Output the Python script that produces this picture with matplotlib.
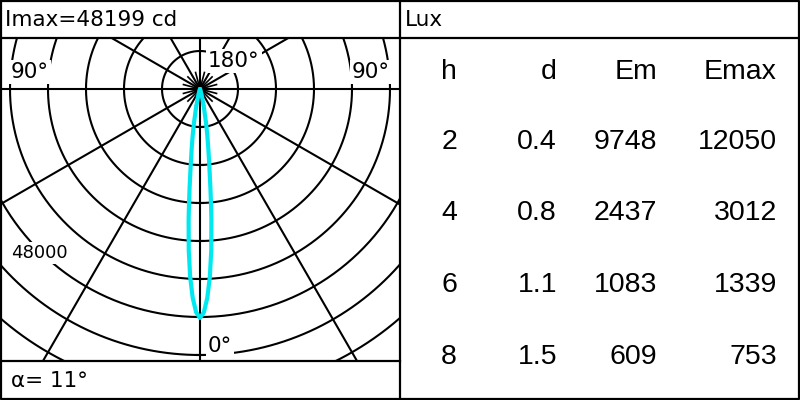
import numpy as np
import matplotlib.pyplot as plt

plt.rcParams['font.family'] = ['DejaVu Sans']

# luminous intensity curve (cd)
angles = [0, 1, 2, 3, 4, 5, 5.5, 6, 7, 8, 9, 10, 12, 15, 20, 30, 45, 60, 90]
intensity = [48199, 47000, 44000, 39600, 34000, 27500, 24100, 21000, 16000,
             12500, 9800, 7500, 4000, 1500, 400, 100, 30, 10, 0]
imax = 48199
ring_step = 8000
beam_angle = 11

# illuminance table
h = ['2', '4', '6', '8']
d = ['0.4', '0.8', '1.1', '1.5']
em = ['9748', '2437', '1083', '609']
emax = ['12050', '3012', '1339', '753']

W, H = 800, 400
fig = plt.figure(figsize=(8, 4), dpi=100)

# frame lines in figure pixel coords
frame = fig.add_axes([0, 0, 1, 1])
frame.set_xlim(0, W)
frame.set_ylim(H, 0)
frame.axis('off')
lw = 1.6
frame.plot([1, W - 1, W - 1, 1, 1], [1, 1, H - 1, H - 1, 1], color='black', lw=lw)
frame.plot([0, W], [38, 38], color='black', lw=lw)
frame.plot([400, 400], [0, H], color='black', lw=lw)
frame.plot([0, 400], [361, 361], color='black', lw=lw)

fs = 15.5
frame.text(5, 20, f'Imax={imax} cd', fontsize=fs, va='center', ha='left')
frame.text(405, 20, 'Lux', fontsize=fs, va='center', ha='left')
frame.text(11, 381, f'α= {beam_angle}°', fontsize=fs, va='center', ha='left')

# table
cols_x = [457, 557, 657, 777]
head_y = 72
rows_y = [142, 213, 285, 357]
tfont = dict(fontsize=20.5, family='Liberation Sans', ha='right', va='center')
for x, lab in zip(cols_x, ['h', 'd', 'Em', 'Emax']):
    frame.text(x, head_y, lab, **tfont)
for col, x in zip([h, d, em, emax], cols_x):
    for val, y in zip(col, rows_y):
        frame.text(x, y, val, **tfont)

# polar diagram panel: pixels 0..400 x 38..361, centre at (200, 89)
px = ring_step / 38.0
cx, cy = 200, 89
left, right, top, bottom = 1, 399.5, 38.5, 360.5
ax = fig.add_axes([left / W, 1 - bottom / H, (right - left) / W, (bottom - top) / H])
ax.set_xlim((left - cx) * px, (right - cx) * px)
ax.set_ylim(-(bottom - cy) * px, (cy - top) * px)
ax.axis('off')

t = np.linspace(0, 2 * np.pi, 720)
for k in range(1, 12):
    r = k * ring_step
    ax.plot(r * np.cos(t), r * np.sin(t), color='black', lw=1.5, zorder=1)

big = 20 * ring_step
for a in [0, 30, 60, 90, 120, 150]:
    ar = np.radians(a)
    ax.plot([-big * np.cos(ar), big * np.cos(ar)], [-big * np.sin(ar), big * np.sin(ar)],
            color='black', lw=1.5, zorder=1)
for a in range(15, 360, 30):
    ar = np.radians(a)
    ax.plot([0, 0.45 * ring_step * np.cos(ar)], [0, 0.45 * ring_step * np.sin(ar)],
            color='black', lw=1.2, zorder=1)

# ticks on the vertical axis at each ring
for k in range(1, 12):
    ax.plot([-0.07 * ring_step, 0.07 * ring_step], [-k * ring_step, -k * ring_step],
            color='black', lw=1.5, zorder=1)

th = np.radians(np.array(angles))
I = np.array(intensity)
th_full = np.concatenate([-th[::-1], th[1:]])
I_full = np.concatenate([I[::-1], I[1:]])
ax.plot(I_full * np.sin(th_full), -I_full * np.cos(th_full), color='#00e8f0',
        lw=3, zorder=3, solid_capstyle='round')

box = dict(facecolor='white', edgecolor='none', pad=1.5)
lfs = 15.5
ax.text(-189 * px, 17 * px, '90°', fontsize=lfs, ha='left', va='center', bbox=box, zorder=4)
ax.text(190 * px, 17 * px, '90°', fontsize=lfs, ha='right', va='center', bbox=box, zorder=4)
ax.text(8 * px, 28 * px, '180°', fontsize=lfs, ha='left', va='center', bbox=box, zorder=4)
ax.text(8 * px, -257 * px, '0°', fontsize=lfs, ha='left', va='center', bbox=box, zorder=4)
ax.text(-189 * px, -164 * px, '48000', fontsize=13, ha='left', va='center', bbox=box, zorder=4)

fig.savefig('out.png', dpi=100)
